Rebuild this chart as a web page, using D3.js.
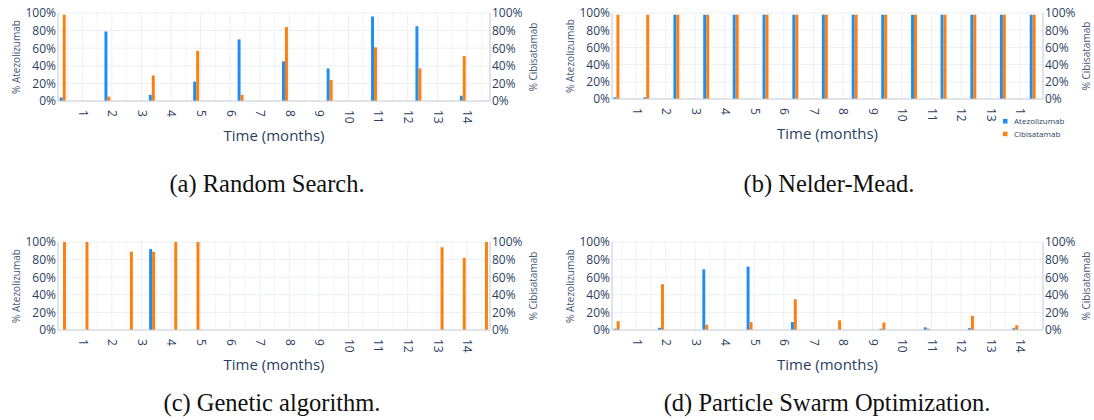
<!DOCTYPE html>
<html>
<head>
<meta charset="utf-8">
<script src="https://cdn.jsdelivr.net/npm/d3@7"></script>
<style>
  body { margin: 0; background: #fff; }
  svg { display: block; }
</style>
</head>
<body>
<svg id="fig" width="1094" height="420"></svg>
<script>
// ---- tick labels ----
const monthTicks = [1, 2, 3, 4, 5, 6, 7, 8, 9, 10, 11, 12, 13, 14];
const pctTicks = [0, 20, 40, 60, 80, 100];

// ---- (a) Random Search: dosing times (months) and doses (%) ----
const rsTimes = [0.34, 1.85, 3.35, 4.85, 6.35, 7.85, 9.36, 10.86, 12.36, 13.86];
const rsAtezo = [4, 79, 7, 22, 70, 45, 37, 96, 85, 6];
const rsCibi  = [98, 5, 29, 57, 7, 84, 24, 61, 37, 51];

// ---- (b) Nelder-Mead ----
const nmTimes = [0.33, 1.34, 2.36, 3.37, 4.37, 5.38, 6.39, 7.39, 8.40, 9.40, 10.41, 11.41, 12.42, 13.42, 14.43];
const nmAtezo = [2, 2, 98, 98, 98, 98, 98, 98, 98, 98, 98, 98, 98, 98, 98];
const nmCibi  = [98, 98, 98, 98, 98, 98, 98, 98, 98, 98, 98, 98, 98, 98, 98];

// ---- (c) Genetic algorithm ----
const gaTimes = [0.35, 1.11, 1.86, 2.61, 3.36, 4.11, 4.86, 5.61, 6.36, 7.11, 7.86, 8.61, 9.36, 10.11, 10.86, 11.61, 12.36, 13.11, 13.86, 14.61];
const gaAtezo = [0, 0, 0, 0, 92, 0, 0, 0, 0, 0, 0, 0, 0, 0, 0, 0, 0, 0, 0, 0];
const gaCibi  = [100, 100, 0, 89, 89, 100, 100, 0, 0, 0, 0, 0, 0, 0, 0, 0, 0, 94, 82, 100];

// ---- (d) Particle Swarm Optimization ----
const psoTimes = [0.34, 1.84, 3.34, 4.84, 6.34, 7.84, 9.34, 10.84, 12.34, 13.84];
const psoAtezo = [1.5, 2.5, 69, 72, 9, 0, 1.5, 3, 2, 2];
const psoCibi  = [10, 52, 6, 9, 35, 11, 8.5, 1.5, 16, 5.5];

const seriesNames = ["Atezolizumab", "Cibisatamab"];
const colors = { atezo: "#1e8ef5", cibi: "#ff7f0e" };

const panels = [
  { caption: "(a) Random Search.", times: rsTimes, atezo: rsAtezo, cibi: rsCibi,
    left: 58, right: 490, top: 13, bottom: 101, capX: 267, capY: 192 },
  { caption: "(b) Nelder-Mead.", times: nmTimes, atezo: nmAtezo, cibi: nmCibi,
    left: 612, right: 1043, top: 13, bottom: 99, capX: 829, capY: 192, legend: true },
  { caption: "(c) Genetic algorithm.", times: gaTimes, atezo: gaAtezo, cibi: gaCibi,
    left: 58, right: 490, top: 242, bottom: 330, capX: 272, capY: 411 },
  { caption: "(d) Particle Swarm Optimization.", times: psoTimes, atezo: psoAtezo, cibi: psoCibi,
    left: 612, right: 1043, top: 242, bottom: 330, capX: 827, capY: 411 }
];

const svg = d3.select("#fig");
const FONT = "'Open Sans', 'Noto Sans', sans-serif";
const INK = "#2a3f5f";
const xDomain = [0.18, 14.78];
const barWidth = 0.1; // months, per series

panels.forEach(p => {
  const g = svg.append("g");
  const x = d3.scaleLinear().domain(xDomain).range([p.left, p.right]);
  const y = d3.scaleLinear().domain([0, 100]).range([p.bottom, p.top]);

  // minor vertical grid (half months) and major grid
  const vGrid = d3.range(0.5, 14.78, 0.5);
  g.append("g").selectAll("line").data(vGrid).join("line")
    .attr("x1", d => x(d)).attr("x2", d => x(d))
    .attr("y1", p.top).attr("y2", p.bottom)
    .attr("stroke", d => Number.isInteger(d) ? "#eceff4" : "#f4f5f8")
    .attr("stroke-width", 1);
  g.append("g").selectAll("line").data(pctTicks.slice(1)).join("line")
    .attr("x1", p.left).attr("x2", p.right)
    .attr("y1", d => y(d)).attr("y2", d => y(d))
    .attr("stroke", "#eceff4").attr("stroke-width", 1);

  // grouped bars: Atezolizumab left, Cibisatamab right of each dosing time
  const rows = p.times.map((t, i) => ({ t, a: p.atezo[i], c: p.cibi[i] }));
  const bw = x(xDomain[0] + barWidth) - x(xDomain[0]);
  g.append("g").selectAll("rect").data(rows).join("rect")
    .attr("x", d => x(d.t) - bw).attr("width", bw)
    .attr("y", d => y(d.a)).attr("height", d => y(0) - y(d.a))
    .attr("fill", colors.atezo);
  g.append("g").selectAll("rect").data(rows).join("rect")
    .attr("x", d => x(d.t)).attr("width", bw)
    .attr("y", d => y(d.c)).attr("height", d => y(0) - y(d.c))
    .attr("fill", colors.cibi);

  // axis lines
  const lineColor = "#c3c8d0";
  g.append("line").attr("x1", p.left).attr("x2", p.left).attr("y1", p.top).attr("y2", p.bottom).attr("stroke", lineColor);
  g.append("line").attr("x1", p.right).attr("x2", p.right).attr("y1", p.top).attr("y2", p.bottom).attr("stroke", lineColor);
  g.append("line").attr("x1", p.left).attr("x2", p.right).attr("y1", p.bottom).attr("y2", p.bottom).attr("stroke", lineColor);

  // left and right percentage axes
  const styleAxis = sel => {
    sel.select(".domain").remove();
    sel.selectAll(".tick line").remove();
    sel.selectAll("text").attr("fill", INK).style("font-family", FONT).style("font-size", "12px");
  };
  g.append("g").attr("transform", `translate(${p.left},0)`)
    .call(d3.axisLeft(y).tickValues(pctTicks).tickFormat(d => d + "%").tickSize(0).tickPadding(2))
    .call(styleAxis);
  g.append("g").attr("transform", `translate(${p.right},0)`)
    .call(d3.axisRight(y).tickValues(pctTicks).tickFormat(d => d + "%").tickSize(0).tickPadding(2))
    .call(styleAxis);

  // bottom month axis with rotated labels
  g.append("g").attr("transform", `translate(0,${p.bottom})`)
    .call(d3.axisBottom(x).tickValues(monthTicks).tickFormat(d3.format("d")).tickSize(0))
    .call(styleAxis)
    .call(sel => sel.selectAll("text")
      .attr("y", 0).attr("x", 9).attr("dy", "0.35em")
      .attr("transform", "rotate(90)")
      .style("text-anchor", "start"));

  // axis titles
  g.append("text")
    .attr("transform", `translate(${p.left - 42},${(p.top + p.bottom) / 2}) rotate(-90)`)
    .attr("text-anchor", "middle").attr("dy", "0.35em")
    .attr("fill", "#475a78").style("font-family", FONT).style("font-size", "10px")
    .text("% " + seriesNames[0]);
  g.append("text")
    .attr("transform", `translate(${p.right + 43},${(p.top + p.bottom) / 2}) rotate(-90)`)
    .attr("text-anchor", "middle").attr("dy", "0.35em")
    .attr("fill", "#475a78").style("font-family", FONT).style("font-size", "10px")
    .text("% " + seriesNames[1]);
  g.append("text")
    .attr("x", (p.left + p.right) / 2).attr("y", p.bottom + 40)
    .attr("text-anchor", "middle")
    .attr("fill", INK).style("font-family", FONT).style("font-size", "15px")
    .text("Time (months)");

  // legend
  if (p.legend) {
    const lg = g.append("g").attr("transform", `translate(${p.right - 40},${p.bottom + 15})`);
    lg.append("rect").attr("x", -3).attr("y", 0).attr("width", 80).attr("height", 28).attr("fill", "#fff");
    [["atezo", seriesNames[0]], ["cibi", seriesNames[1]]].forEach(([k, name], i) => {
      const yy = 7 + i * 12.7;
      lg.append("rect").attr("x", 0).attr("y", yy - 2).attr("width", 4.5).attr("height", 4.5).attr("fill", colors[k]);
      lg.append("text").attr("x", 11).attr("y", yy).attr("dy", "0.35em")
        .attr("fill", INK).style("font-family", FONT).style("font-size", "8px").text(name);
    });
  }

  // caption
  svg.append("text")
    .attr("x", p.capX).attr("y", p.capY)
    .attr("text-anchor", "middle")
    .attr("fill", "#111").style("font-family", "'Liberation Serif', 'Times New Roman', serif").style("font-size", "24.5px")
    .text(p.caption);
});
</script>
</body>
</html>
